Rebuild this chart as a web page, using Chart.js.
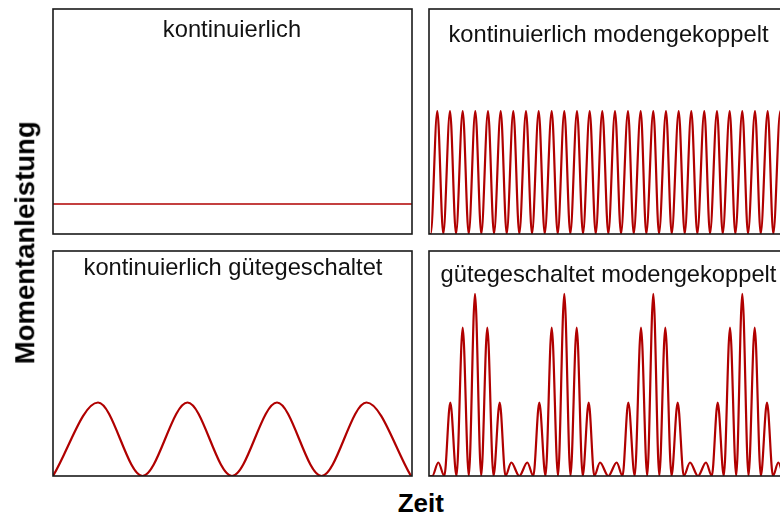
<!DOCTYPE html>
<html lang="de">
<head>
<meta charset="utf-8">
<title>Momentanleistung – Betriebsarten eines Lasers</title>
<script src="https://cdn.jsdelivr.net/npm/chart.js@4.4.1/dist/chart.umd.min.js"></script>
<style>
  html, body { margin: 0; padding: 0; background: #fff; overflow: hidden; }
  #stage { position: relative; width: 780px; height: 516px; overflow: hidden; background: #fff;
           font-family: "Liberation Sans", Arial, Helvetica, sans-serif; color: #111; }
  #stage canvas { position: absolute; }
  .panel-title { position: absolute; width: 400px; text-align: center; font-size: 23.7px;
                 line-height: 23.7px; white-space: nowrap; }
  .axis-label { position: absolute; font-weight: bold; text-align: center; white-space: nowrap; color: #000; }
</style>
</head>
<body>
<div id="stage">
  <canvas id="cw" width="363" height="229" style="left:51px;top:7px"></canvas>
  <canvas id="ml" width="363" height="229" style="left:427px;top:7px"></canvas>
  <canvas id="qs" width="363" height="229" style="left:51px;top:249px"></canvas>
  <canvas id="qml" width="363" height="229" style="left:427px;top:249px"></canvas>

  <div class="panel-title" style="left:32px;top:18.2px">kontinuierlich</div>
  <div class="panel-title" style="left:408.5px;top:23px">kontinuierlich modengekoppelt</div>
  <div class="panel-title" style="left:33px;top:256px">kontinuierlich gütegeschaltet</div>
  <div class="panel-title" style="left:408.5px;top:263.2px">gütegeschaltet modengekoppelt</div>

  <div class="axis-label" style="left:-125.5px;top:229.25px;width:300px;font-size:27.5px;line-height:27.5px;transform:rotate(-90deg)">Momentanleistung</div>
  <div class="axis-label" style="left:320.8px;top:489.7px;width:200px;font-size:26px;line-height:26px">Zeit</div>
</div>

<script>
// Time axis runs 0 … 359 (arbitrary units) in every panel, power 0 … 15 (arbitrary units).

// kontinuierlich: constant output
const cwTime  = [0, 359];
const cwPower = [2.0, 2.0];

// kontinuierlich modengekoppelt: regular pulse train (troughs and peaks)
const mlTime  = [0, 1.7, 8.3, 14.3, 21.0, 27.0, 33.7, 39.7, 46.3, 52.3, 59.0, 65.0, 71.7, 77.7,
                 84.3, 90.3, 97.0, 103.0, 109.7, 115.7, 122.7, 128.7, 135.3, 141.3, 148.0,
                 154.0, 160.7, 166.7, 173.3, 179.3, 186.0, 192.0, 199.0, 204.7, 211.7, 217.3,
                 224.3, 230.0, 237.0, 242.7, 249.7, 255.7, 262.3, 268.3, 275.3, 281.0, 288.0,
                 293.7, 300.7, 306.3, 313.3, 319.0, 326.0, 331.7, 338.7, 344.3, 351.3, 357.0];
const mlPower = [0, 0, 8.2, 0, 8.2, 0, 8.2, 0, 8.2, 0, 8.2, 0, 8.2, 0,
                 8.2, 0, 8.2, 0, 8.2, 0, 8.2, 0, 8.2, 0, 8.2,
                 0, 8.2, 0, 8.2, 0, 8.2, 0, 8.2, 0, 8.2, 0,
                 8.2, 0, 8.2, 0, 8.2, 0, 8.2, 0, 8.2, 0, 8.2,
                 0, 8.2, 0, 8.2, 0, 8.2, 0, 8.2, 0, 8.2, 0];

// kontinuierlich gütegeschaltet: Q-switched pulses
const qsTime  = [0, 45.0, 89.5, 134.5, 179.0, 224.0, 268.5, 313.5, 358.0];
const qsPower = [0, 4.9, 0, 4.9, 0, 4.9, 0, 4.9, 0];

// gütegeschaltet modengekoppelt: mode-locked pulses under the Q-switch envelope
const qmlTime  = [0, 3.3, 9.3, 15.3, 21.3, 27.5, 33.7, 39.8, 46.0, 52.2, 58.3, 64.5, 70.7, 76.5,
                  82.3, 90.3, 98.3, 104.3, 110.3, 116.5, 122.7, 129.0, 135.3, 141.5, 147.7,
                  153.7, 159.7, 165.3, 171.0, 179.3, 187.7, 193.5, 199.3, 205.7, 212.0, 218.2,
                  224.3, 230.3, 236.3, 242.5, 248.7, 254.8, 261.0, 269.0, 277.0, 282.8, 288.7,
                  294.8, 301.0, 307.2, 313.3, 319.5, 325.7, 331.8, 338.0, 344.0, 349.3, 355.0, 359.0];
const qmlPower = [0, 0, 0.9, 0, 4.9, 0, 9.9, 0, 12.15, 0, 9.9, 0, 4.9, 0,
                  0.9, 0, 0.9, 0, 4.9, 0, 9.9, 0, 12.15, 0, 9.9,
                  0, 4.9, 0, 0.9, 0, 0.9, 0, 4.9, 0, 9.9, 0,
                  12.15, 0, 9.9, 0, 4.9, 0, 0.9, 0, 0.9, 0, 4.9,
                  0, 9.9, 0, 12.15, 0, 9.9, 0, 4.9, 0, 0.9, 0, 0];

const lineColor = '#b00000';
const frameColor = '#1a1a1a';

// draws the closed box around each plot area
const framePlugin = {
  id: 'frame',
  afterDraw(chart) {
    const a = chart.chartArea, ctx = chart.ctx;
    ctx.save();
    ctx.strokeStyle = frameColor;
    ctx.lineWidth = 1.6;
    ctx.strokeRect(a.left, a.top, a.right - a.left, a.bottom - a.top);
    ctx.restore();
  }
};

function toPoints(xs, ys) {
  return xs.map((x, i) => ({ x, y: ys[i] }));
}

function panel(id, xs, ys, width) {
  return new Chart(document.getElementById(id), {
    type: 'line',
    data: {
      datasets: [{
        data: toPoints(xs, ys),
        borderColor: lineColor,
        borderWidth: width,
        pointRadius: 0,
        fill: false,
        cubicInterpolationMode: 'monotone'
      }]
    },
    options: {
      responsive: false,
      animation: false,
      devicePixelRatio: 1,
      layout: { padding: { left: 2, right: 2, top: 2, bottom: 2 } },
      scales: {
        x: { type: 'linear', min: 0, max: 359, display: false },
        y: { type: 'linear', min: 0, max: 15, display: false }
      },
      plugins: { legend: { display: false }, tooltip: { enabled: false }, title: { display: false } },
      events: []
    },
    plugins: [framePlugin]
  });
}

panel('cw', cwTime, cwPower, 1.4);
panel('ml', mlTime, mlPower, 2.2);
panel('qs', qsTime, qsPower, 2.2);
panel('qml', qmlTime, qmlPower, 2.2);
</script>
</body>
</html>
